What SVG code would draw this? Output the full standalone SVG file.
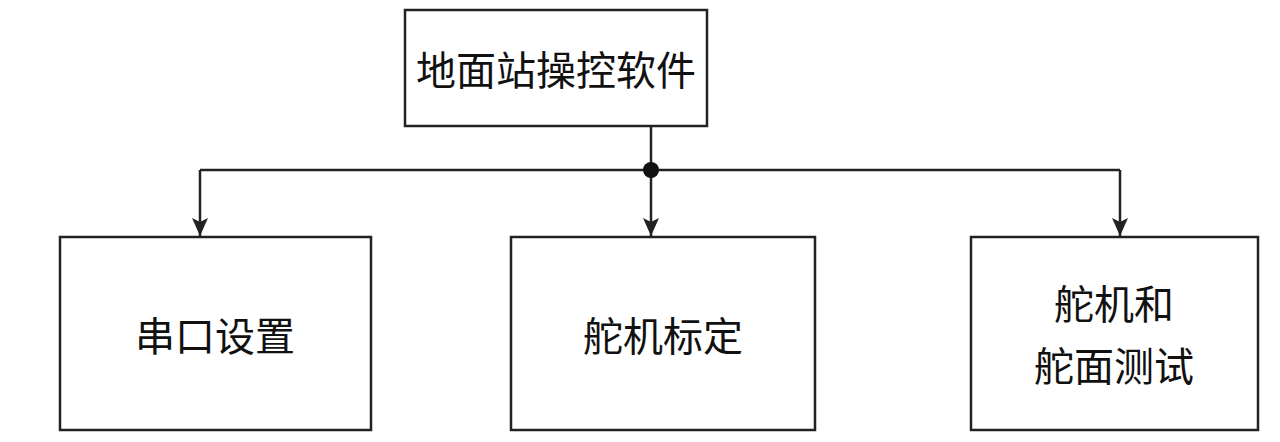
<svg xmlns="http://www.w3.org/2000/svg" width="1280" height="442" viewBox="0 0 1280 442">
<style>
rect{fill:#fff;stroke:#222;stroke-width:2.5}
text{font-family:"Noto Sans CJK SC","Noto Sans",sans-serif;font-size:40px;fill:#111;text-anchor:middle;dominant-baseline:central}
.c{stroke:#222;stroke-width:2.5;fill:none}
</style>
<defs>
<marker id="ar" viewBox="0 0 18 16" refX="18" refY="8" markerWidth="18" markerHeight="16" markerUnits="userSpaceOnUse" orient="auto"><path d="M0,0 L18,8 L0,16 L4,8 z" fill="#222"/></marker></defs>
<rect width="1280" height="442" style="stroke:none"/>
<g id="top"><rect x="405" y="10" width="302" height="116"/><text x="556" y="68">地面站操控软件</text></g>
<g id="n1"><rect x="60" y="237" width="311" height="193"/><text x="215" y="334">串口设置</text></g>
<g id="n2"><rect x="511" y="237" width="304" height="193"/><text x="663" y="334">舵机标定</text></g>
<g id="n3"><rect x="971" y="237" width="287" height="193"/><text x="1114" y="302">舵机和</text><text x="1114" y="364">舵面测试</text></g>
<g id="connectors">
<path class="c" d="M651,126 V170"/>
<path class="c" d="M200,170 H1120"/>
<path class="c" d="M200,170 V236" marker-end="url(#ar)"/>
<path class="c" d="M1120,170 V236" marker-end="url(#ar)"/>
<path class="c" d="M651,170 V236" marker-end="url(#ar)"/>
<circle cx="651" cy="170" r="8" fill="#111"/>
</g>
</svg>
